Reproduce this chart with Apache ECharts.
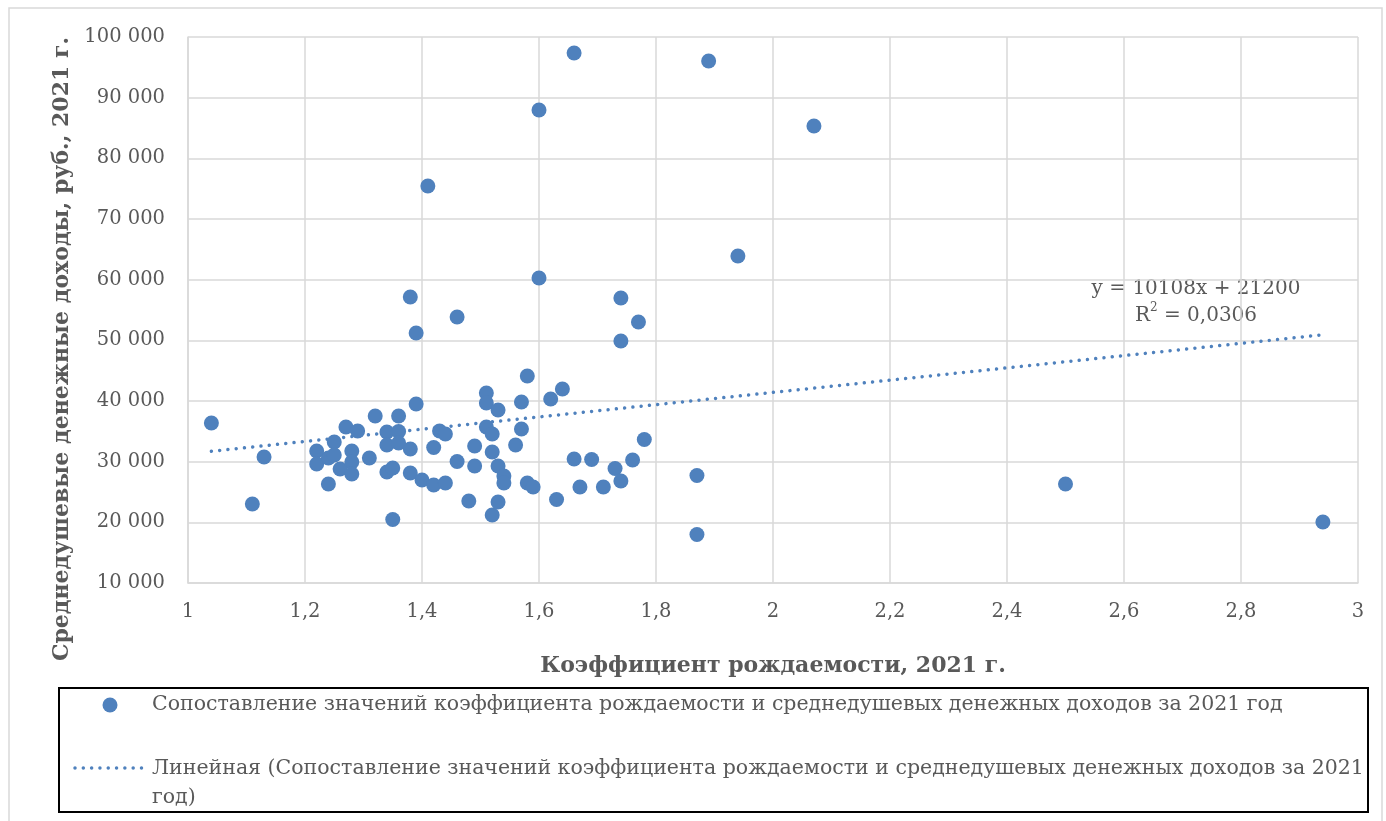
<!DOCTYPE html>
<html>
<head>
<meta charset="UTF-8">
<title>Коэффициент рождаемости и доходы</title>
<script src="https://cdn.jsdelivr.net/npm/echarts@6/dist/echarts.min.js"></script>
</head>
<body style="margin:0;background:#fff;">
<div id="container" style="width:1386px;height:821px;"></div>
<script>
// коэффициент рождаемости, 2021
var fertility = [1.04, 1.11, 1.13, 1.22, 1.22, 1.24, 1.24, 1.25, 1.25, 1.26, 1.27, 1.28, 1.28, 1.28, 1.29, 1.31, 1.32,
  1.34, 1.34, 1.34, 1.35, 1.35, 1.36, 1.36, 1.36, 1.38, 1.38, 1.38, 1.39, 1.39, 1.40, 1.41, 1.42, 1.42, 1.43, 1.44,
  1.44, 1.46, 1.46, 1.48, 1.49, 1.49, 1.51, 1.51, 1.51, 1.52, 1.52, 1.52, 1.53, 1.53, 1.53, 1.54, 1.54, 1.56, 1.57,
  1.57, 1.58, 1.58, 1.59, 1.60, 1.60, 1.62, 1.63, 1.64, 1.66, 1.66, 1.67, 1.69, 1.71, 1.73, 1.74, 1.74, 1.74, 1.76,
  1.77, 1.78, 1.87, 1.87, 1.89, 1.94, 2.07, 2.50, 2.94];
// среднедушевые денежные доходы, руб.
var income = [36370, 23020, 30770, 31760, 29610, 30600, 26320, 33240, 31100, 28790, 35710, 31760, 29940, 27970, 35050, 30600, 37530,
  34890, 32750, 28300, 28950, 20470, 37530, 34970, 33080, 57140, 32090, 28130, 51210, 39500, 26980, 75440, 32330, 26150, 35050, 34560,
  26480, 53840, 30030, 23520, 32580, 29280, 41320, 39670, 35710, 34560, 31590, 21210, 38510, 29280, 23350, 27640, 26480, 32750, 39830,
  35380, 44120, 26480, 25820, 87960, 60270, 40330, 23760, 41980, 97360, 30440, 25820, 30360, 25820, 28870, 56980, 49890, 26810, 30270,
  53020, 33650, 27720, 17990, 96040, 63900, 85330, 26320, 20050];
// линия тренда (концы)
var trendX = [1.04, 2.94];
var trendY = [31713, 50918];
var trendText = ['y = 10108x + 21200', 'R{sup|2} = 0,0306'];

var scatterName = 'Сопоставление значений коэффициента рождаемости и среднедушевых денежных доходов за 2021 год';
var trendName = 'Линейная (Сопоставление значений коэффициента рождаемости и среднедушевых денежных доходов за 2021 год)';

var blue = '#4f81bd';
var grey = '#595959';
var gridGrey = '#d9d9d9';
var serif = 'DejaVu Serif';
var dots = [0.01, 8.3];

var points = fertility.map(function (x, i) { return [x, income[i]]; });
var trendPoints = trendX.map(function (x, i) { return [x, trendY[i]]; });

function fmtThousands(v) {
  return String(v).replace(/\B(?=(\d{3})+(?!\d))/g, ' ');
}

var myChart = echarts.init(document.getElementById('container'));

var legendFont = '20.5px "DejaVu Serif"';

var option = {
  animation: false,
  textStyle: { fontFamily: serif },
  grid: { left: 188, right: 28, top: 37, bottom: 238 },
  xAxis: {
    type: 'value',
    min: 1, max: 3, interval: 0.2,
    name: 'Коэффициент рождаемости, 2021 г.',
    nameLocation: 'middle',
    nameGap: 72,
    nameTextStyle: { color: grey, fontSize: 22, fontWeight: 'bold', fontFamily: serif },
    axisLine: { show: true, lineStyle: { color: gridGrey, width: 1.5 } },
    axisTick: { show: false },
    axisLabel: {
      color: grey, fontSize: 19.5, margin: 19,
      formatter: function (v) { return String(Math.round(v * 10) / 10).replace('.', ','); }
    },
    splitLine: { show: true, lineStyle: { color: gridGrey, width: 1.5 } }
  },
  yAxis: {
    type: 'value',
    min: 10000, max: 100000, interval: 10000,
    axisLine: { show: true, lineStyle: { color: gridGrey, width: 1.5 } },
    axisTick: { show: false },
    axisLabel: { color: grey, fontSize: 19.5, margin: 23, formatter: fmtThousands },
    splitLine: { show: true, lineStyle: { color: gridGrey, width: 1.5 } }
  },
  legend: { show: false },
  graphic: [
    {
      type: 'rect', silent: true,
      shape: { x: 9, y: 8, width: 1373, height: 860 },
      style: { fill: null, stroke: gridGrey, lineWidth: 1.5 }
    },
    {
      type: 'text', silent: true,
      x: 62, y: 349, rotation: Math.PI / 2,
      style: {
        text: 'Среднедушевые денежные доходы, руб., 2021 г.',
        fill: grey, font: 'bold 22px "DejaVu Serif"',
        align: 'center', verticalAlign: 'middle'
      }
    },
    {
      type: 'text', silent: true,
      x: 1196, y: 302,
      style: {
        text: trendText.join('\n'),
        fill: grey, font: '20px "DejaVu Serif"', lineHeight: 27,
        align: 'center', verticalAlign: 'middle',
        rich: { sup: { fontSize: 12, verticalAlign: 'top', fill: grey, fontFamily: serif, lineHeight: 18 } }
      }
    },
    // легенда
    {
      type: 'group', silent: true,
      children: [
        {
          type: 'rect',
          shape: { x: 59, y: 688, width: 1309, height: 124 },
          style: { fill: '#fff', stroke: '#000', lineWidth: 2 }
        },
        {
          type: 'circle',
          shape: { cx: 110, cy: 705, r: 7.5 },
          style: { fill: blue }
        },
        {
          type: 'text', x: 152, y: 705,
          style: { text: scatterName, fill: grey, font: legendFont, verticalAlign: 'middle' }
        },
        {
          type: 'line',
          shape: { x1: 75, y1: 768, x2: 148, y2: 768 },
          style: { stroke: blue, lineWidth: 3.5, lineDash: dots, lineCap: 'round' }
        },
        {
          type: 'text', x: 152, y: 768,
          style: {
            text: trendName.replace(/ год\)$/, '\nгод)'),
            fill: grey, font: legendFont, lineHeight: 29, verticalAlign: 'top',
            padding: [-14, 0, 0, 0]
          }
        }
      ]
    }
  ],
  series: [
    {
      name: scatterName,
      type: 'scatter',
      symbolSize: 15,
      itemStyle: { color: blue, opacity: 1 },
      data: points,
      z: 3
    },
    {
      name: trendName,
      type: 'line',
      symbol: 'none',
      silent: true,
      lineStyle: { color: blue, width: 3.5, type: dots, cap: 'round' },
      data: trendPoints,
      z: 2
    }
  ]
};

myChart.setOption(option);
</script>
</body>
</html>
